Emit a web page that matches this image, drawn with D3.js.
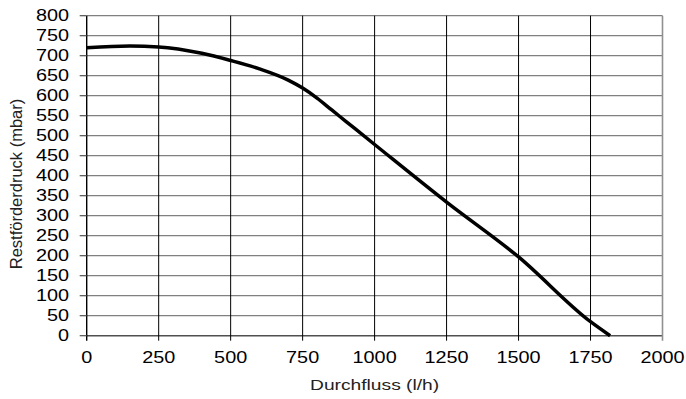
<!DOCTYPE html>
<html lang="de">
	<head>
		<meta charset="utf-8">
		<title>Restförderdruck</title>
		<script type="text/javascript" src="https://d3js.org/d3.v7.min.js"></script>
		<style type="text/css">
			body { margin: 0; background: #fff; }
			text { font-family: "Liberation Sans", Arial, sans-serif; }
		</style>
	</head>
	<body>
		<script type="text/javascript">

			// Width and height
			var w = 686;
			var h = 399;

			// data
			var flow = [0, 150, 250, 400, 500, 600, 700, 750, 800, 850, 900, 1000, 1250, 1500, 1750, 1818];
			var pressure = [720, 724, 722, 706, 688, 667, 639, 619, 594, 565, 536, 478, 334, 197, 35, 0];
			var xTicks = [0, 250, 500, 750, 1000, 1250, 1500, 1750, 2000];
			var yTicks = d3.range(0, 801, 50);

			var pLeft = 86.7, pRight = 662.5, pTop = 15.7, pBottom = 335.7;
			var sx = 1.24; // the source font is drawn wider than normal

			var x = d3.scaleLinear().domain([0, 2000]).range([pLeft, pRight]);
			var y = d3.scaleLinear().domain([0, 800]).range([pBottom, pTop]);

			var svg = d3.select("body")
						.append("svg")
						.attr("width", w)
						.attr("height", h);

			// horizontal grid (grey)
			svg.append("g")
			   .selectAll("line")
			   .data(yTicks)
			   .enter()
			   .append("line")
			   .attr("x1", pLeft)
			   .attr("x2", pRight)
			   .attr("y1", function(d) { return y(d); })
			   .attr("y2", function(d) { return y(d); })
			   .attr("stroke", function(d) { return d == 0 ? "#505050" : "#808080"; })
			   .attr("stroke-width", function(d) { return d == 0 ? 1.6 : 1.2; });

			// vertical grid (black)
			svg.append("g")
			   .selectAll("line")
			   .data(xTicks)
			   .enter()
			   .append("line")
			   .attr("x1", function(d) { return x(d); })
			   .attr("x2", function(d) { return x(d); })
			   .attr("y1", pTop)
			   .attr("y2", pBottom + 5)
			   .attr("stroke", function(d) { return d == 2000 ? "#909090" : "#000"; })
			   .attr("stroke-width", function(d) { return d == 0 ? 1.4 : (d == 2000 ? 1.6 : 1); });

			// y ticks
			svg.append("g")
			   .selectAll("line")
			   .data(yTicks)
			   .enter()
			   .append("line")
			   .attr("x1", pLeft - 7)
			   .attr("x2", pLeft)
			   .attr("y1", function(d) { return y(d); })
			   .attr("y2", function(d) { return y(d); })
			   .attr("stroke", "#505050")
			   .attr("stroke-width", 1.2);

			// tick labels
			svg.append("g")
			   .selectAll("text")
			   .data(yTicks)
			   .enter()
			   .append("text")
			   .attr("transform", function(d) { return "translate(69," + y(d) + ") scale(" + sx + ",1)"; })
			   .attr("dy", "0.36em")
			   .attr("text-anchor", "end")
			   .style("font-size", "16px")
			   .text(function(d) { return d; });

			svg.append("g")
			   .selectAll("text")
			   .data(xTicks)
			   .enter()
			   .append("text")
			   .attr("transform", function(d) { return "translate(" + x(d) + ",363) scale(" + sx + ",1)"; })
			   .attr("text-anchor", "middle")
			   .style("font-size", "16px")
			   .text(function(d) { return d; });

			// axis titles
			svg.append("text")
			   .attr("transform", "translate(" + ((pLeft + pRight) / 2) + ",390) scale(" + sx + ",1)")
			   .attr("text-anchor", "middle")
			   .style("font-size", "15.5px")
			   .attr("fill", "#222")
			   .text("Durchfluss (l/h)");

			svg.append("text")
			   .attr("transform", "translate(21.5,184) rotate(-90)")
			   .attr("text-anchor", "middle")
			   .style("font-size", "16.5px")
			   .attr("fill", "#222")
			   .text("Restförderdruck (mbar)");

			// curve
			var line = d3.line()
				.x(function(d, i) { return x(flow[i]); })
				.y(function(d) { return y(d); })
				.curve(d3.curveMonotoneX);

			svg.append("path")
			   .datum(pressure)
			   .attr("d", line)
			   .attr("fill", "none")
			   .attr("stroke", "#000")
			   .attr("stroke-width", 3.5);

		</script>
	</body>
</html>
